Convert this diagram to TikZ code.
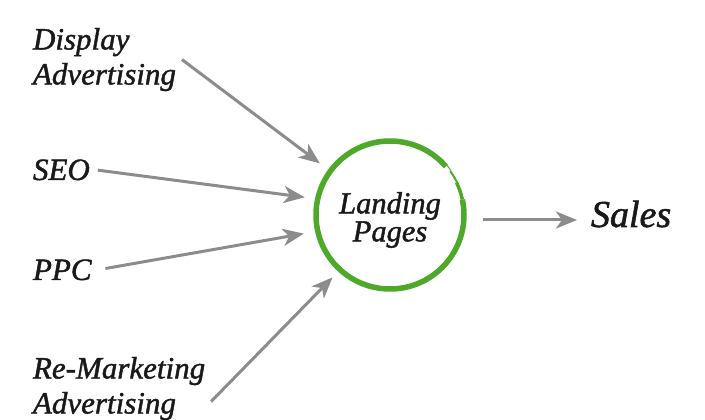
\documentclass[tikz,border=0pt]{standalone}
\usepackage{fontspec}
\setmainfont{Liberation Serif}[ItalicFeatures={FakeBold=1.4}]
\usetikzlibrary{arrows.meta}

\definecolor{ringgreen}{RGB}{78,168,42}
\definecolor{arrowgray}{RGB}{140,140,140}
\definecolor{labelblack}{RGB}{25,25,25}

\begin{document}
\begin{tikzpicture}[x=1pt, y=1pt,
  srclabel/.style={font=\itshape\fontsize{31}{35}\selectfont, text=labelblack, inner sep=0pt, outer sep=6pt, align=left},
  flow/.style={draw=arrowgray, line width=3pt, -{Stealth[length=21pt, width=17pt, inset=6pt]}}]
  % Marco
  \useasboundingbox (0,0) rectangle (705,420);

  % Fuentes de trafico
  \node[srclabel, anchor=north west] (display) at (27,398) {Display\\Advertising};
  \node[srclabel, anchor=base west] (seo) at (27,240) {SEO};
  \node[srclabel, anchor=base west] (ppc) at (27,140) {PPC};
  \node[srclabel, anchor=north west] (remarketing) at (27,69) {Re-Marketing\\Advertising};

  % Centro (el anillo va 5pt mas arriba que el texto)
  \node[circle, minimum size=174pt, inner sep=0pt, align=center, font=\itshape\fontsize{30.5}{28}\selectfont, text=labelblack] (landing) at (390,200) {Landing\\Pages};
  \draw[ringgreen, line width=5.5pt] ([shift={(41:74)}, yshift=5pt]landing.center) arc[start angle=41, end angle=372, radius=74];
  \draw[ringgreen, line width=3.5pt] ([shift={(12:74)}, yshift=5pt]landing.center) arc[start angle=12, end angle=26, radius=74.5];
  \draw[ringgreen, line width=2pt] ([shift={(26:74.5)}, yshift=5pt]landing.center) arc[start angle=26, end angle=36, radius=75.5];
  \draw[ringgreen, line width=1pt] ([shift={(36:75.5)}, yshift=5pt]landing.center) arc[start angle=36, end angle=44, radius=77];

  % Resultado
  \node[font=\itshape\fontsize{38}{44}\selectfont, text=labelblack, anchor=base west, inner sep=0pt, outer sep=0pt] (sales) at (591,193) {Sales};

  % Flechas
  \draw[flow, shorten >=3pt] (display.east) -- (landing.141);
  \draw[flow, shorten <=2pt, shorten >=1pt] (seo.east) -- (landing.165);
  \draw[flow, shorten <=8pt] (ppc.east) -- (landing.189);
  \draw[flow, shorten >=-6pt] (remarketing.-8) -- (landing.225);
  \draw[flow, shorten <=6pt, shorten >=14pt] (landing.0) -- (landing.0 -| sales.west);
\end{tikzpicture}
\end{document}
